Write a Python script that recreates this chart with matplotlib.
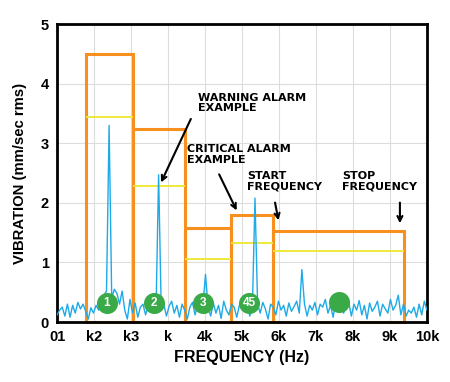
import numpy as np
import matplotlib
matplotlib.use("Agg")
import matplotlib.pyplot as plt

plt.rcParams['font.family'] = ['Liberation Sans', 'DejaVu Sans']

# alarm bands: start, stop, critical level, warning level
band_start = [0.78, 2.05, 3.46, 4.70, 5.84]
band_stop = [2.05, 3.46, 4.70, 5.84, 9.38]
band_alarm = [4.50, 3.24, 1.58, 1.79, 1.53]
band_warn = [3.44, 2.28, 1.05, 1.33, 1.20]

# spectrum amplitude samples across 0..10
vib = [0.12, 0.20, 0.25, 0.10, 0.30, 0.08, 0.28, 0.15, 0.33, 0.22,
       0.30, 0.18, 0.05, 0.24, 0.15, 0.28, 0.20, 0.35, 0.45, 0.52,
       3.30, 0.40, 0.55, 0.48, 0.30, 0.52, 0.20, 0.05, 0.38, 0.15,
       0.32, 0.08, 0.25, 0.30, 0.12, 0.28, 0.20, 0.35, 0.18, 2.47,
       0.22, 0.30, 0.10, 0.26, 0.35, 0.15, 0.28, 0.08, 0.30, 0.20,
       0.05, 0.25, 0.33, 0.12, 0.30, 0.18, 0.27, 0.80, 0.25, 0.10,
       0.32, 0.15, 0.28, 0.06, 0.35, 0.20, 0.12, 0.30, 0.25, 0.08,
       0.28, 0.35, 0.18, 0.30, 0.10, 0.25, 2.08, 0.30, 0.15, 0.33,
       0.22, 0.05, 0.30, 0.25, 0.12, 0.35, 0.20, 0.28, 0.10, 0.32,
       0.18, 0.26, 0.35, 0.15, 0.88, 0.30, 0.10, 0.28, 0.20, 0.33,
       0.12, 0.30, 0.25, 0.38, 0.15, 0.28, 0.08, 0.35, 0.22, 0.30,
       0.15, 0.27, 0.33, 0.10, 0.30, 0.20, 0.36, 0.12, 0.28, 0.05,
       0.32, 0.18, 0.25, 0.35, 0.10, 0.30, 0.22, 0.15, 0.38, 0.20,
       0.28, 0.45, 0.12, 0.30, 0.10, 0.20, 0.15, 0.25, 0.08, 0.30,
       0.12, 0.35, 0.20]

# numbered markers
marker_x = [1.35, 2.62, 3.95, 5.2, 7.62]
marker_y = [0.32, 0.32, 0.32, 0.32, 0.34]
marker_txt = ["1", "2", "3", "45", ""]

xtick_labels = ["01", "k2", "k3", "k", "4k", "5k", "6k", "7k", "8k", "9k", "10k"]

ORANGE = "#F7901E"
YELLOW = "#EEE83A"
BLUE = "#1EAAE7"
GREEN = "#3AAA48"

fig = plt.figure(figsize=(4.5, 3.82), dpi=100)
ax = fig.add_axes([0.1267, 0.157, 0.822, 0.78])

ax.grid(True, color="#dddddd", linewidth=0.8, zorder=0)
ax.set_axisbelow(True)

xs = np.linspace(0, 10, len(vib))
ax.plot(xs, vib, color=BLUE, linewidth=1.0, zorder=3)

widths = [b - a for a, b in zip(band_start, band_stop)]
ax.bar(band_start, band_alarm, width=widths, align="edge", fill=False,
       edgecolor=ORANGE, linewidth=2.2, zorder=2, clip_on=False)
for a, b, w in zip(band_start, band_stop, band_warn):
    ax.hlines(w, a, b, color=YELLOW, linewidth=1.4, zorder=2)

ax.scatter(marker_x, marker_y, s=230, color=GREEN, zorder=5, linewidths=0)
for x, y, t in zip(marker_x, marker_y, marker_txt):
    ax.text(x, y, t, color="white", fontsize=8.5, fontweight="bold",
            ha="center", va="center", zorder=6)

akw = dict(arrowstyle="->", color="black", lw=1.5, mutation_scale=9)
tkw = dict(fontsize=8, fontweight="bold", ha="left", va="top",
           linespacing=1.05, family="DejaVu Sans")
ax.annotate("", xy=(2.78, 2.30), xytext=(3.65, 3.45), arrowprops=akw)
ax.text(3.8, 3.85, "WARNING ALARM\nEXAMPLE", **tkw)
ax.annotate("", xy=(4.89, 1.83), xytext=(4.35, 2.52), arrowprops=akw)
ax.text(3.52, 2.98, "CRITICAL ALARM\nEXAMPLE", **tkw)
ax.annotate("", xy=(6.0, 1.66), xytext=(5.88, 2.05), arrowprops=akw)
ax.text(5.13, 2.53, "START\nFREQUENCY", **tkw)
ax.annotate("", xy=(9.27, 1.61), xytext=(9.27, 2.05), arrowprops=akw)
ax.text(7.7, 2.53, "STOP\nFREQUENCY", **tkw)

ax.set_xlim(0, 10)
ax.set_ylim(0, 5)
ax.set_xticks(range(11))
ax.set_xticklabels(xtick_labels)
ax.set_yticks(range(6))
ax.tick_params(length=0, labelsize=10.5, pad=6)
for lab in ax.get_xticklabels() + ax.get_yticklabels():
    lab.set_fontweight("bold")
for s in ax.spines.values():
    s.set_linewidth(2)
    s.set_color("black")

ax.set_xlabel("FREQUENCY (Hz)", fontsize=11.5, fontweight="bold", labelpad=4)
ax.set_ylabel("VIBRATION (mm/sec rms)", fontsize=10.7, fontweight="bold")
ax.yaxis.set_label_coords(-0.081, 0.5)

fig.savefig("out.png", dpi=100)
